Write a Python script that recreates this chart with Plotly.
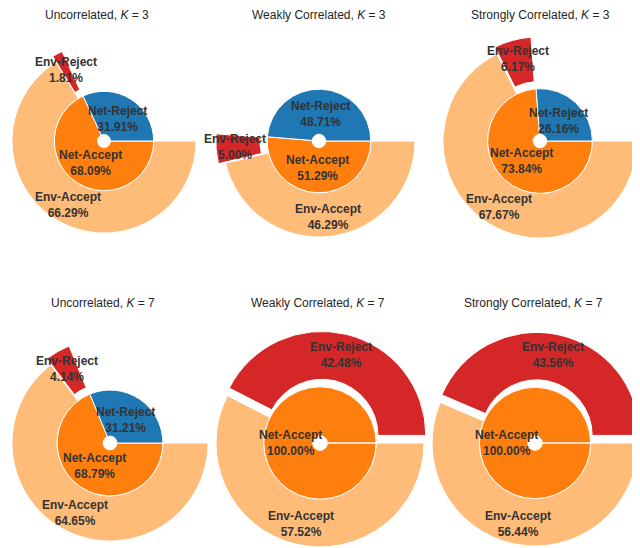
import math
import plotly.graph_objects as go

# percentages
titles = [
    "Uncorrelated, <i>K</i> = 3",
    "Weakly Correlated, <i>K</i> = 3",
    "Strongly Correlated, <i>K</i> = 3",
    "Uncorrelated, <i>K</i> = 7",
    "Weakly Correlated, <i>K</i> = 7",
    "Strongly Correlated, <i>K</i> = 7",
]
net_reject = [31.91, 48.71, 26.16, 31.21, 0.00, 0.00]
net_accept = [68.09, 51.29, 73.84, 68.79, 100.00, 100.00]
env_reject = [1.81, 5.00, 6.17, 4.14, 42.48, 43.56]
env_accept = [66.29, 46.29, 67.67, 64.65, 57.52, 56.44]

# page has an 8px body margin, so the figure is a bit smaller than the window
OFF = 8
FW, FH = 640 - OFF, 548 - OFF

# panel geometry in window pixels (centre x, centre y, outer radius)
cx_list = [104, 319, 540, 110, 320, 535]
cy_list = [141, 141, 141, 443, 443, 443]
R_list = [92, 96, 97, 98, 104, 103]
title_x = [97, 319, 540, 103, 318, 533]
title_y = [15, 15, 15, 303, 303, 303]
inner_frac = 0.54
explode = 0.075

c_net_rej = "#1f77b4"
c_net_acc = "#ff7f0e"
c_env_rej = "#d62728"
c_env_acc = "#ffbb78"
clear = "rgba(0,0,0,0)"
txt = "#333333"
font_fam = "Liberation Sans, Arial, sans-serif"


def px(x, y):
    return (x - OFF) / FW, 1 - (y - OFF) / FH


def dom(cx, cy, r):
    x0, y1 = px(cx - r, cy - r)
    x1, y0 = px(cx + r, cy + r)
    return dict(x=[max(0, x0), min(1, x1)], y=[max(0, y0), min(1, y1)])


def pos(cx, cy, ang, dist):
    a = math.radians(ang)
    return px(cx + dist * math.cos(a), cy - dist * math.sin(a))


def pie(vals, colors, widths, hole, domain):
    # slices listed in reverse and drawn clockwise from 3 o'clock
    # == original order counter-clockwise from 3 o'clock
    return go.Pie(values=vals[::-1], sort=False, direction="clockwise", rotation=90,
                  hole=hole, domain=domain, textinfo="none", hoverinfo="none",
                  marker=dict(colors=colors[::-1],
                              line=dict(color="white", width=widths[::-1])),
                  showlegend=False)


fig = go.Figure()
annos = []

for i in range(6):
    cx, cy, R = cx_list[i], cy_list[i], R_list[i]
    r_in = inner_frac * R
    d = explode * R
    nr, na, er, ea = net_reject[i], net_accept[i], env_reject[i], env_accept[i]
    ring_vals = [nr, er, ea]

    # outer ring, accepted part
    fig.add_trace(pie(ring_vals, [clear, clear, c_env_acc], [0, 0, 1],
                      inner_frac, dom(cx, cy, R)))

    # outer ring, rejected part pushed outwards
    mid_er = (nr + er / 2) * 3.6
    ex = cx + d * math.cos(math.radians(mid_er))
    ey = cy - d * math.sin(math.radians(mid_er))
    fig.add_trace(pie(ring_vals, [clear, c_env_rej, clear], [0, 1, 0],
                      inner_frac, dom(ex, ey, R)))

    # inner pie
    fig.add_trace(pie([nr, na], [c_net_rej, c_net_acc], [1, 1],
                      0.13, dom(cx, cy, r_in)))

    labels = []
    if nr > 0:
        labels.append(("Net-Reject", nr, nr / 2 * 3.6, 0.52 * r_in))
    labels.append(("Net-Accept", na, (nr + na / 2) * 3.6, 0.52 * r_in))
    labels.append(("Env-Reject", er, mid_er, 0.8 * R + d))
    labels.append(("Env-Accept", ea, (nr + er + ea / 2) * 3.6, 0.8 * R))
    for name, v, ang, dist in labels:
        x, y = pos(cx, cy, ang, dist)
        annos.append(dict(x=x, y=y, xref="paper", yref="paper", showarrow=False,
                          xanchor="center", yanchor="middle",
                          text=f"<b>{name}</b><br><b>{v:.2f}%</b>",
                          font=dict(family=font_fam, size=12, color=txt)))

    tx, ty = px(title_x[i], title_y[i])
    annos.append(dict(x=tx, y=ty, xref="paper", yref="paper", showarrow=False,
                      xanchor="center", yanchor="middle", text=titles[i],
                      font=dict(family=font_fam, size=12, color="#262626")))

fig.update_layout(width=FW, height=FH, margin=dict(l=0, r=0, t=0, b=0),
                  paper_bgcolor="white", plot_bgcolor="white",
                  annotations=annos, showlegend=False)

fig.write_html("out.html")
